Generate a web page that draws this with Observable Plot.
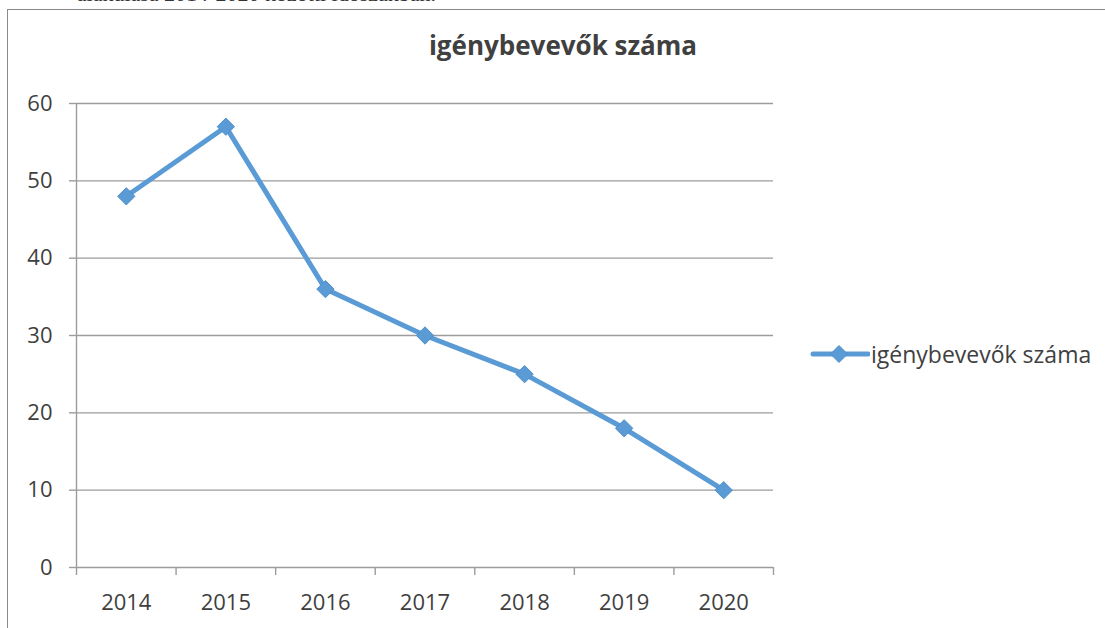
<!DOCTYPE html>
<html><head><meta charset="utf-8">
<script src="https://cdn.jsdelivr.net/npm/d3@7"></script>
<script src="https://cdn.jsdelivr.net/npm/@observablehq/plot@0.6"></script>
<style>
body{margin:0;background:#fff;}
#wrap{position:relative;width:1105px;height:628px;overflow:hidden;background:#fff;font-family:"Open Sans",sans-serif;}
#toptext{position:absolute;left:0;top:-17px;width:436px;text-align:right;white-space:nowrap;font-family:"Liberation Serif",serif;font-size:22px;line-height:22px;color:#333;}
#frame{position:absolute;left:7px;top:9px;width:1200px;height:700px;border:1.5px solid #8a8a8a;box-sizing:border-box;}
#chart{position:absolute;left:0;top:0;}
#title{position:absolute;left:0;width:1126px;top:27px;text-align:center;font-weight:700;font-size:26px;color:#404040;}
#legend{position:absolute;left:810px;top:338px;display:flex;align-items:center;font-size:23px;color:#404040;}
#legend span{margin-left:1px;}
</style></head><body>
<div id="wrap">
  <div id="toptext">alakulása 2014-2020 közötti időszakban.</div>
  <div id="frame"></div>
  <div id="chart"></div>
  <div id="title"></div>
  <div id="legend"></div>
</div>
<script>
const seriesName = "igénybevevők száma";
const years = [2014, 2015, 2016, 2017, 2018, 2019, 2020];
const values = [48, 57, 36, 30, 25, 18, 10];
const yTicks = [0, 10, 20, 30, 40, 50, 60];

const lineColor = "#5b9bd5";
const gridColor = "#9c9c9c";
const textColor = "#3f3f3f";

const data = years.map((year, i) => ({year, value: values[i]}));
const boundaries = [years[0] - 0.5, ...years.map(y => y + 0.5)];

const chart = Plot.plot({
  width: 1105,
  height: 628,
  marginLeft: 76,
  marginRight: 332,
  marginTop: 103,
  marginBottom: 61,
  style: {fontFamily: "'Open Sans', sans-serif", fontSize: "22px", color: textColor, background: "transparent"},
  x: {type: "linear", domain: [years[0] - 0.5, years[years.length - 1] + 0.5]},
  y: {domain: [0, 60]},
  marks: [
    Plot.gridY(yTicks, {stroke: gridColor, strokeOpacity: 1, strokeWidth: 1.4}),
    Plot.axisY(yTicks, {tickSize: 7, tickPadding: 17, stroke: gridColor, strokeOpacity: 1, strokeWidth: 1.4, label: null, fill: textColor, fontSize: 22}),
    Plot.ruleX([boundaries[0]], {stroke: gridColor, strokeWidth: 1.4}),
    Plot.axisX(boundaries, {tickSize: 8, tickFormat: () => "", stroke: gridColor, strokeOpacity: 1, strokeWidth: 1.4, label: null}),
    Plot.axisX(years, {tickSize: 0, tickPadding: 27, tickFormat: d => String(d), label: null, fill: textColor, fontSize: 22}),
    Plot.line(data, {x: "year", y: "value", stroke: lineColor, strokeWidth: 5, strokeLinejoin: "round"}),
    Plot.dot(data, {x: "year", y: "value", symbol: "diamond2", r: 7.8, fill: lineColor, stroke: "#4f8fca", strokeWidth: 1})
  ]
});
document.getElementById("chart").appendChild(chart);
document.getElementById("title").textContent = seriesName;

// legend
const lg = document.getElementById("legend");
const ns = "http://www.w3.org/2000/svg";
const sw = document.createElementNS(ns, "svg");
sw.setAttribute("width", 60); sw.setAttribute("height", 20);
sw.innerHTML = `<line x1="3" y1="10" x2="58" y2="10" stroke="${lineColor}" stroke-width="5" stroke-linecap="round"/>
<path d="M29,1.5 L37.5,10 L29,18.5 L20.5,10 Z" fill="${lineColor}" stroke="#4f8fca" stroke-width="1"/>`;
lg.appendChild(sw);
const sp = document.createElement("span");
sp.textContent = seriesName;
lg.appendChild(sp);
</script>
</body></html>
